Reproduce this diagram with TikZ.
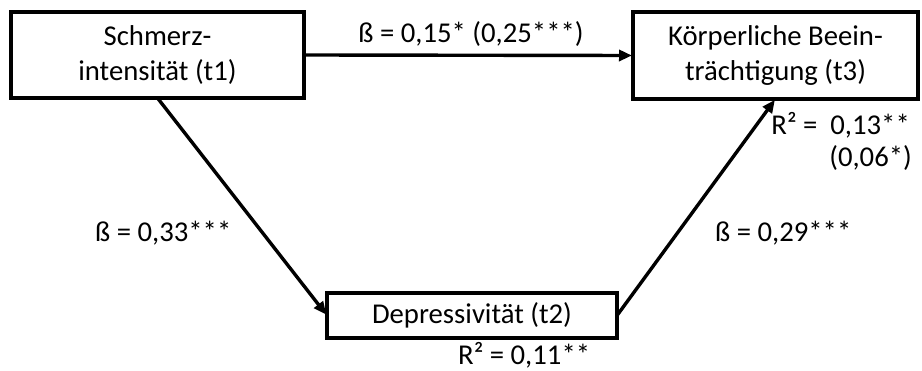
\documentclass[tikz,border=0pt]{standalone}
\usepackage{fontspec}
\setmainfont{Carlito}
\usetikzlibrary{arrows.meta}
\tikzset{
  varbox/.style={draw=black, line width=3.8pt, fill=white, inner sep=0pt, outer sep=0pt,
                 align=center, font=\fontsize{28.7}{35}\selectfont},
  path/.style={line width=3.4pt, -{Triangle[length=13pt, width=11pt]}, shorten >=1pt},
  coef/.style={inner sep=0pt, font=\fontsize{28.7}{35}\selectfont}
}
\begin{document}
\begin{tikzpicture}[x=1pt, y=-1pt]
  \useasboundingbox (0,0) rectangle (922,371);
  % the three variables
  \node[varbox, minimum width=293pt, minimum height=86pt] (L) at (157.5,55)
    {Schmerz-\\intensität (t1)};
  \node[varbox, minimum width=285pt, minimum height=87pt] (R) at (775.5,55.5)
    {Körperliche Beein-\\trächtigung (t3)};
  \node[varbox, minimum width=290pt, minimum height=45pt] (D) at (472,315.5)
    {Depressivität (t2)};
  % paths
  \draw[path] (L.east) -- (R.west);
  \draw[path] (L.south) -- (D.west);
  \draw[path] (D.east) -- (R.south);
  % coefficients
  \node[coef, anchor=base] (c13) at (471,43) {ß = 0,15* (0,25***)};
  \node[coef, anchor=base west] (c12) at (95,242) {ß = 0,33***};
  \node[coef, anchor=base west] (c23) at (715,242) {ß = 0,29***};
  \node[coef, anchor=base east] (r3a) at (910,135) {R² =\ \ 0,13**};
  \node[coef, anchor=base east] (r3b) at (912,167) {(0,06*)};
  \node[coef, anchor=base west] (r2) at (458,365) {R² = 0,11**};
\end{tikzpicture}
\end{document}
